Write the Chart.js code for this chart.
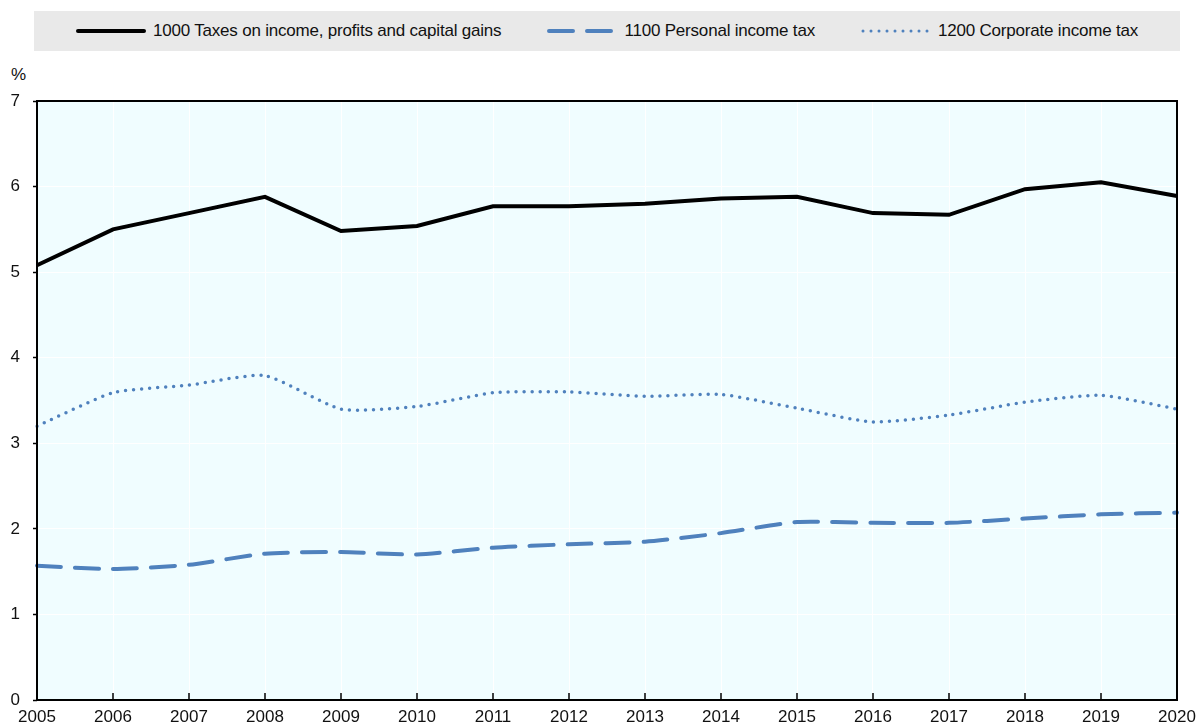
<!DOCTYPE html>
<html>
<head>
<meta charset="utf-8">
<script src="https://cdn.jsdelivr.net/npm/chart.js@4.4.0/dist/chart.umd.min.js"></script>
<style>
    html, body { margin: 0; padding: 0; background: #fff; }
    body { width: 1198px; height: 723px; position: relative; overflow: hidden;
           font-family: 'Liberation Sans Narrow', 'Arial Narrow', 'Liberation Sans', sans-serif; color: #111; }
    #legend { position: absolute; left: 34px; top: 11px; width: 1146px; height: 40px; background: #e9e9e9;
              display: flex; align-items: center; justify-content: center; font-size: 17px; letter-spacing: -0.2px; }
    .item { display: flex; align-items: center; margin: 0 23px; }
    .item svg { margin-right: 7px; }
    #unit { position: absolute; left: 11px; top: 65px; font-size: 17px; }
    #wrap { position: absolute; left: 0; top: 0; width: 1198px; height: 723px; }
</style>
</head>
<body>
<div id="legend">
    <div class="item"><svg width="70" height="8"><line x1="2" y1="4" x2="68" y2="4" stroke="#000" stroke-width="4" stroke-linecap="round"/></svg>1000 Taxes on income, profits and capital gains</div>
    <div class="item"><svg width="70" height="8"><line x1="2" y1="4" x2="68" y2="4" stroke="#4f81bd" stroke-width="4" stroke-linecap="round" stroke-dasharray="24 14"/></svg>1100 Personal income tax</div>
    <div class="item"><svg width="70" height="8"><line x1="2" y1="4" x2="68" y2="4" stroke="#4f81bd" stroke-width="3" stroke-linecap="round" stroke-dasharray="0 8"/></svg>1200 Corporate income tax</div>
</div>
<div id="unit">%</div>
<div id="wrap"><canvas id="chart" width="1198" height="723"></canvas></div>
<script>
// Tax revenue shares, % of GDP
const years = ['2005', '2006', '2007', '2008', '2009', '2010', '2011', '2012',
               '2013', '2014', '2015', '2016', '2017', '2018', '2019', '2020'];
const incomeProfitsGains = [5.08, 5.50, 5.69, 5.88, 5.48, 5.54, 5.77, 5.77,
                            5.80, 5.86, 5.88, 5.69, 5.67, 5.97, 6.05, 5.89];
const personalIncome = [1.57, 1.53, 1.58, 1.71, 1.73, 1.70, 1.78, 1.82,
                        1.85, 1.95, 2.08, 2.07, 2.07, 2.12, 2.17, 2.19];
const corporateIncome = [3.20, 3.59, 3.68, 3.79, 3.40, 3.43, 3.59, 3.60,
                         3.55, 3.57, 3.41, 3.25, 3.33, 3.48, 3.56, 3.40];
const yTicks = [0, 1, 2, 3, 4, 5, 6, 7];

const colors = {
    black: '#000000',
    blue: '#4f81bd',
    plotBg: '#f0fdff',
    grid: '#ffffff',
    text: '#111111'
};

const fontFamily = "'Liberation Sans Narrow', 'Arial Narrow', 'Liberation Sans', sans-serif";

// plot background + frame + inward x ticks
const plotDecor = {
    id: 'plotDecor',
    beforeDraw(chart) {
        const { ctx, chartArea: a } = chart;
        ctx.save();
        ctx.fillStyle = colors.plotBg;
        ctx.fillRect(a.left, a.top, a.right - a.left, a.bottom - a.top);
        ctx.restore();
    },
    afterDatasetsDraw(chart) {
        const { ctx, chartArea: a, scales } = chart;
        ctx.save();
        ctx.strokeStyle = colors.black;
        ctx.lineWidth = 2;
        ctx.strokeRect(a.left, a.top, a.right - a.left, a.bottom - a.top);
        ctx.lineWidth = 1.5;
        years.forEach((y, i) => {
            const x = scales.x.getPixelForValue(i);
            ctx.beginPath();
            ctx.moveTo(x, a.bottom);
            ctx.lineTo(x, a.bottom - 7);
            ctx.stroke();
        });
        ctx.restore();
    }
};

new Chart(document.getElementById('chart'), {
    type: 'line',
    data: {
        labels: years,
        datasets: [
            {
                label: '1000 Taxes on income, profits and capital gains',
                data: incomeProfitsGains,
                borderColor: colors.black,
                borderWidth: 4,
                pointRadius: 0,
                tension: 0
            },
            {
                label: '1100 Personal income tax',
                data: personalIncome,
                borderColor: colors.blue,
                borderWidth: 4,
                borderDash: [24, 14],
                borderCapStyle: 'round',
                pointRadius: 0,
                tension: 0.2
            },
            {
                label: '1200 Corporate income tax',
                data: corporateIncome,
                borderColor: colors.blue,
                borderWidth: 3.5,
                borderDash: [0, 8],
                borderCapStyle: 'round',
                pointRadius: 0,
                tension: 0.2
            }
        ]
    },
    options: {
        responsive: false,
        animation: false,
        layout: { padding: { top: 101, right: 21, bottom: 0, left: 0 } },
        plugins: {
            legend: { display: false },
            tooltip: { enabled: false }
        },
        scales: {
            x: {
                offset: false,
                grid: { color: colors.grid, lineWidth: 1, drawTicks: false },
                border: { display: false },
                ticks: {
                    color: colors.text,
                    font: { family: fontFamily, size: 17 },
                    padding: 7,
                    maxRotation: 0,
                    autoSkip: false
                },
                afterFit: (scale) => {
                    scale.height = 23;
                    scale.paddingLeft = 0;
                    scale.paddingRight = 0;
                }
            },
            y: {
                min: 0,
                max: 7,
                afterBuildTicks: (scale) => { scale.ticks = yTicks.map(v => ({ value: v })); },
                grid: { color: colors.grid, lineWidth: 1, tickLength: 4, tickColor: colors.black, tickWidth: 1.5 },
                border: { display: false },
                ticks: {
                    color: colors.text,
                    font: { family: fontFamily, size: 17 },
                    padding: 13
                },
                afterFit: (scale) => {
                    scale.width = 37;
                    scale.paddingTop = 0;
                    scale.paddingBottom = 0;
                }
            }
        }
    },
    plugins: [plotDecor]
});
</script>
</body>
</html>
